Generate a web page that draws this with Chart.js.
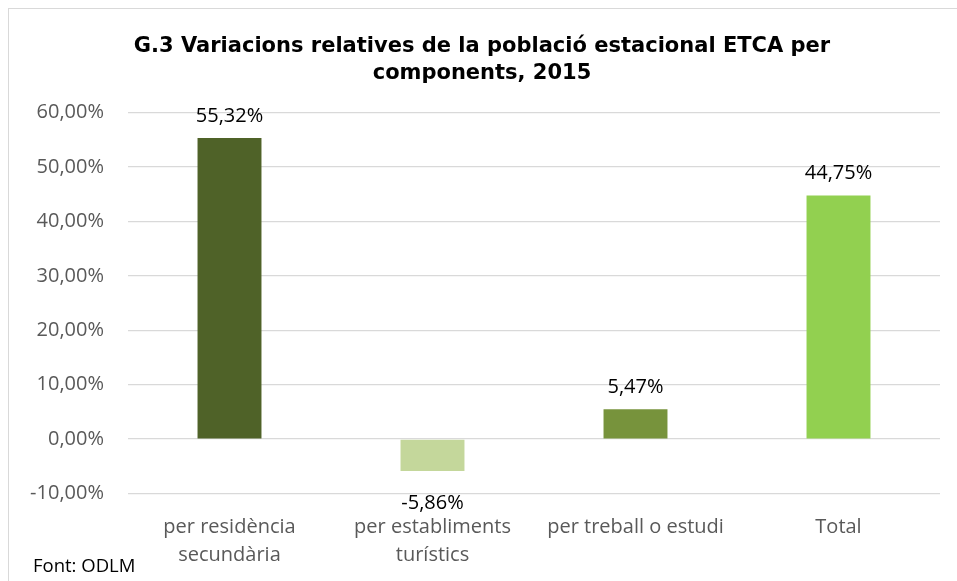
<!DOCTYPE html>
<html>
<head>
<meta charset="utf-8">
<script src="https://cdn.jsdelivr.net/npm/chart.js@4/dist/chart.umd.min.js"></script>
<style>
  html, body { margin: 0; padding: 0; background: #fff; }
  #wrap { width: 957px; height: 581px; }
</style>
</head>
<body>
<div id="wrap"><canvas id="myChart" width="957" height="581"></canvas></div>
<script>
const categories = [['per residència', 'secundària'], ['per establiments', 'turístics'], 'per treball o estudi', 'Total'];
const values = [55.32, -5.86, 5.47, 44.75];
const barColors = ['#4F6228', '#C4D79B', '#77933C', '#92D050'];
const titleLines = ['G.3 Variacions relatives de la població estacional ETCA per', 'components, 2015'];
const sourceText = 'Font: ODLM';

function pct(v) {
    return v.toFixed(2).replace('.', ',') + '%';
}

// valors damunt / sota de cada barra
const valueLabels = {
    id: 'valueLabels',
    afterDatasetsDraw(chart) {
        const ctx = chart.ctx;
        const meta = chart.getDatasetMeta(0);
        ctx.save();
        ctx.font = '20px "Open Sans"';
        ctx.fillStyle = '#000';
        ctx.textAlign = 'center';
        meta.data.forEach(function (bar, i) {
            const v = values[i];
            if (v >= 0) {
                ctx.textBaseline = 'bottom';
                ctx.fillText(pct(v), bar.x, bar.y - 12);
            } else {
                ctx.textBaseline = 'top';
                ctx.fillText(pct(v), bar.x, bar.y + 22);
            }
        });
        ctx.restore();
    }
};

const frame = {
    id: 'frame',
    beforeDraw(chart) {
        const ctx = chart.ctx;
        ctx.save();
        ctx.strokeStyle = '#d9d9d9';
        ctx.lineWidth = 1;
        ctx.strokeRect(8.5, 8.5, chart.width, chart.height);
        ctx.restore();
    },
    afterDraw(chart) {
        const ctx = chart.ctx;
        ctx.save();
        ctx.font = '18.5px "Open Sans"';
        ctx.fillStyle = '#000';
        ctx.textAlign = 'left';
        ctx.textBaseline = 'middle';
        ctx.fillText(sourceText, 33, 567);
        ctx.restore();
    }
};

const ctx = document.getElementById('myChart');

const myChart = new Chart(ctx, {
    type: 'bar',
    data: {
        labels: categories,
        datasets: [{
            data: values,
            backgroundColor: barColors,
            borderWidth: 0,
            categoryPercentage: 1,
            barPercentage: 0.315
        }]
    },
    options: {
        responsive: false,
        animation: false,
        layout: {
            padding: { left: 24, right: 17, top: 0, bottom: 0 }
        },
        scales: {
            y: {
                min: -10,
                max: 60,
                afterFit: function (scale) { scale.width = 104; },
                ticks: {
                    stepSize: 10,
                    padding: 24,
                    color: '#595959',
                    font: { family: 'Open Sans', size: 20 },
                    callback: function (v) { return pct(v); }
                },
                grid: { color: '#d9d9d9', lineWidth: 1.3, drawTicks: false },
                border: { display: false }
            },
            x: {
                afterFit: function (scale) { scale.height = 87.5; },
                ticks: {
                    maxRotation: 0,
                    autoSkip: false,
                    padding: 20,
                    color: '#595959',
                    font: { family: 'Open Sans', size: 20, lineHeight: 1.4 }
                },
                grid: { display: false, drawTicks: false },
                border: { display: false }
            }
        },
        plugins: {
            legend: { display: false },
            tooltip: { enabled: false },
            title: {
                display: true,
                text: titleLines,
                color: '#000',
                font: { family: 'DejaVu Sans', size: 21, weight: 'bold', lineHeight: 1.3 },
                padding: { top: 33, bottom: 25 }
            }
        }
    },
    plugins: [valueLabels, frame]
});
</script>
</body>
</html>
